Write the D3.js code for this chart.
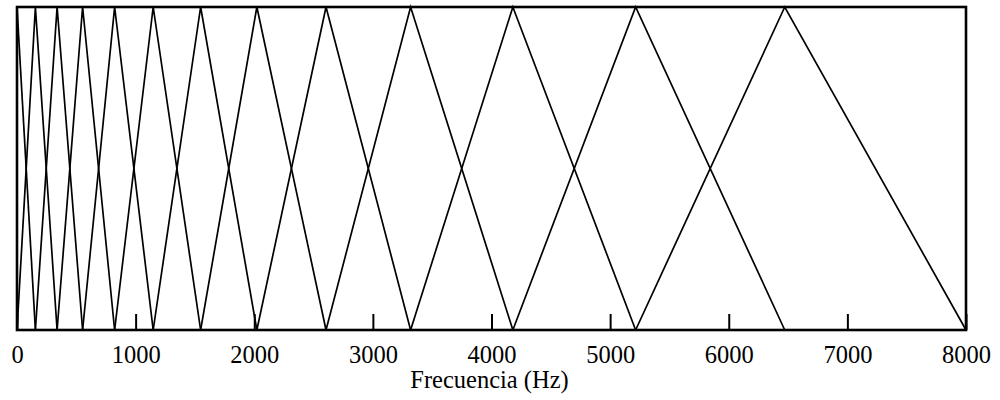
<!DOCTYPE html>
<html>
<head>
<meta charset="utf-8">
<script src="https://cdn.jsdelivr.net/npm/d3@7"></script>
<style>
  html, body { margin: 0; padding: 0; background: #fff; }
  svg { display: block; }
  svg text { font-family: "Liberation Serif", "Times New Roman", serif !important; fill: #000; }
</style>
</head>
<body>
<svg id="chart" width="1000" height="400"></svg>
<script>
// Edge frequencies (Hz) of the triangular mel filter bank: filter i rises from
// edges[i-1] to its peak at edges[i] and falls back to zero at edges[i+1].
const edges = [0, 155, 338, 553, 823, 1148, 1548, 2022, 2605, 3318, 4180, 5215, 6472, 8000];
const tickValues = [0, 1000, 2000, 3000, 4000, 5000, 6000, 7000, 8000];
const xLabel = "Frecuencia (Hz)";

const svg = d3.select("#chart");
const plotLeft = 17, plotRight = 966, plotTop = 7, plotBottom = 330;
const serif = "'Liberation Serif', 'Times New Roman', serif";

const x = d3.scaleLinear().domain([0, 8000]).range([plotLeft, plotRight]);
const y = d3.scaleLinear().domain([0, 1]).range([plotBottom, plotTop]);

// Build each triangle from three consecutive edges
const filters = d3.range(1, edges.length - 1).map(i => [
  [edges[i - 1], 0], [edges[i], 1], [edges[i + 1], 0]
]);
// The first filter starts at its peak on the left edge
filters.unshift([[edges[0], 1], [edges[1], 0]]);

const line = d3.line().x(d => x(d[0])).y(d => y(d[1]));

svg.append("g")
  .selectAll("path")
  .data(filters)
  .join("path")
  .attr("d", line)
  .attr("fill", "none")
  .attr("stroke", "#000")
  .attr("stroke-width", 1.7)
  .attr("stroke-linejoin", "miter");

// Inward ticks along the bottom
const axis = d3.axisBottom(x)
  .tickValues(tickValues)
  .tickSize(-16)
  .tickPadding(16)
  .tickFormat(d3.format("d"));

const gx = svg.append("g")
  .attr("transform", `translate(0,${plotBottom})`)
  .call(axis)
  .attr("font-family", null)
  .attr("font-size", null);
gx.select(".domain").remove();
gx.selectAll(".tick line").attr("stroke", "#000").attr("stroke-width", 2);
gx.selectAll(".tick text")
  .style("font-family", serif)
  .style("font-size", "24.5px")
  .attr("fill", "#000");

// Frame around the plot
svg.append("rect")
  .attr("x", plotLeft).attr("y", plotTop)
  .attr("width", plotRight - plotLeft).attr("height", plotBottom - plotTop)
  .attr("fill", "none")
  .attr("stroke", "#000")
  .attr("stroke-width", 2.6);

svg.append("text")
  .attr("x", (plotLeft + plotRight) / 2 - 2)
  .attr("y", 388)
  .attr("text-anchor", "middle")
  .style("font-family", serif)
  .style("font-size", "24.5px")
  .text(xLabel);
</script>
</body>
</html>
